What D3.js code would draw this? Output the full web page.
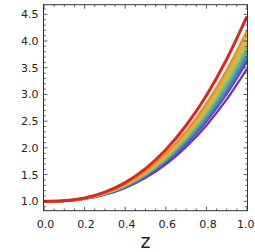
<!DOCTYPE html>
<html><head><meta charset="utf-8">
<script src="https://cdn.jsdelivr.net/npm/d3@7"></script>
<style>body{margin:0;background:#fff}svg{display:block}</style>
</head><body>
<script>
const zValues = [0, 0.1, 0.2, 0.3, 0.4, 0.5, 0.6, 0.7, 0.8, 0.9, 1.0];
const seriesRed     = [1, 1.011, 1.062, 1.171, 1.350, 1.612, 1.965, 2.419, 2.981, 3.659, 4.46];
const seriesOrange  = [1, 1.010, 1.057, 1.157, 1.323, 1.564, 1.890, 2.308, 2.826, 3.451, 4.19];
const seriesYellow  = [1, 1.010, 1.055, 1.153, 1.314, 1.548, 1.865, 2.271, 2.774, 3.382, 4.10];
const seriesLime    = [1, 1.010, 1.054, 1.149, 1.306, 1.534, 1.842, 2.238, 2.729, 3.321, 4.02];
const seriesYGreen  = [1, 1.009, 1.053, 1.146, 1.300, 1.523, 1.826, 2.214, 2.694, 3.274, 3.96];
const seriesGreen   = [1, 1.009, 1.052, 1.143, 1.293, 1.513, 1.809, 2.189, 2.660, 3.228, 3.90];
const seriesTeal    = [1, 1.009, 1.051, 1.140, 1.287, 1.502, 1.792, 2.164, 2.626, 3.182, 3.84];
const seriesCyan    = [1, 1.009, 1.050, 1.137, 1.281, 1.492, 1.775, 2.140, 2.591, 3.136, 3.78];
const seriesBlue    = [1, 1.009, 1.049, 1.134, 1.275, 1.481, 1.759, 2.115, 2.557, 3.090, 3.72];
const seriesRoyal   = [1, 1.008, 1.048, 1.131, 1.269, 1.470, 1.742, 2.091, 2.523, 3.044, 3.66];
const seriesIndigo  = [1, 1.008, 1.047, 1.129, 1.264, 1.461, 1.728, 2.070, 2.494, 3.006, 3.61];
const seriesPurple  = [1, 1.008, 1.044, 1.122, 1.251, 1.438, 1.692, 2.017, 2.420, 2.906, 3.48];

const seriesList = [seriesPurple, seriesIndigo, seriesRoyal, seriesBlue, seriesCyan, seriesTeal,
                    seriesGreen, seriesYGreen, seriesLime, seriesYellow, seriesOrange, seriesRed];
const seriesColors = ["#7d2c9a", "#5647c2", "#4b62cf", "#4a7ecb", "#5298b4", "#65ad92",
                      "#85ba72", "#a8c15a", "#c7bf46", "#dcb03a", "#e8902c", "#e0261c"];
const seriesWidths = [2.2, 2.2, 2.2, 2.2, 2.2, 2.2, 2.2, 2.2, 2.2, 2.2, 2.4, 3];

const xTicks = [0, 0.2, 0.4, 0.6, 0.8, 1.0];
const yTicks = [1.0, 1.5, 2.0, 2.5, 3.0, 3.5, 4.0, 4.5];
const xLabel = "z";

const W = 255, H = 252;
const fLeft = 43.5, fRight = 247.5, fTop = 4.7, fBottom = 210.7;

const svg = d3.select("body").append("svg").attr("width", W).attr("height", H);

const x = d3.scaleLinear().domain([0, 1]).range([44, 247]);
const y = d3.scaleLinear().domain([0.824, 4.68]).range([fBottom, fTop]);

svg.append("clipPath").attr("id", "clip").append("rect")
  .attr("x", fLeft).attr("y", fTop).attr("width", fRight - fLeft).attr("height", fBottom - fTop);

const line = d3.line().x((d, i) => x(zValues[i])).y(d => y(d)).curve(d3.curveMonotoneX);

svg.append("g").attr("clip-path", "url(#clip)")
  .selectAll("path").data(seriesList).join("path")
  .attr("d", d => line(d))
  .attr("fill", "none")
  .attr("stroke", (d, i) => seriesColors[i])
  .attr("stroke-width", (d, i) => seriesWidths[i]);

const frameColor = "#333";
svg.append("rect").attr("x", fLeft).attr("y", fTop).attr("width", fRight - fLeft).attr("height", fBottom - fTop)
  .attr("fill", "none").attr("stroke", frameColor).attr("stroke-width", 1);

const xMinor = d3.range(0, 1.0001, 0.05);
const yMinor = d3.range(0.9, 4.6001, 0.1);
const gt = svg.append("g").attr("stroke", frameColor).attr("stroke-width", 0.8);
xMinor.forEach(v => {
  const isMajor = Math.abs(v * 5 - Math.round(v * 5)) < 1e-6;
  const len = isMajor ? 4 : 2.2;
  gt.append("line").attr("x1", x(v)).attr("x2", x(v)).attr("y1", fBottom).attr("y2", fBottom - len);
  gt.append("line").attr("x1", x(v)).attr("x2", x(v)).attr("y1", fTop).attr("y2", fTop + len);
});
yMinor.forEach(v => {
  if (y(v) > fBottom || y(v) < fTop) return;
  const isMajor = Math.abs(v * 2 - Math.round(v * 2)) < 1e-6;
  const len = isMajor ? 4 : 2.2;
  gt.append("line").attr("y1", y(v)).attr("y2", y(v)).attr("x1", fLeft).attr("x2", fLeft + len);
  gt.append("line").attr("y1", y(v)).attr("y2", y(v)).attr("x1", fRight).attr("x2", fRight - len);
});

const font = "'DejaVu Sans', sans-serif";
svg.append("g").selectAll("text").data(xTicks).join("text")
  .attr("x", (d, i) => i === xTicks.length - 1 ? 254.5 : x(d) + 1.5).attr("y", 227.5)
  .attr("text-anchor", (d, i) => i === xTicks.length - 1 ? "end" : "middle")
  .attr("font-family", font).attr("font-size", 11).attr("fill", "#222")
  .text(d => d.toFixed(1));
svg.append("g").selectAll("text").data(yTicks).join("text")
  .attr("x", 38.5).attr("y", d => y(d) + 4)
  .attr("text-anchor", "end").attr("font-family", font).attr("font-size", 11).attr("fill", "#222")
  .text(d => d.toFixed(1));
svg.append("text").attr("x", 145.5).attr("y", 247.5).attr("text-anchor", "middle")
  .attr("font-family", font).attr("font-size", 19).attr("fill", "#222").text(xLabel);
</script>
</body></html>
